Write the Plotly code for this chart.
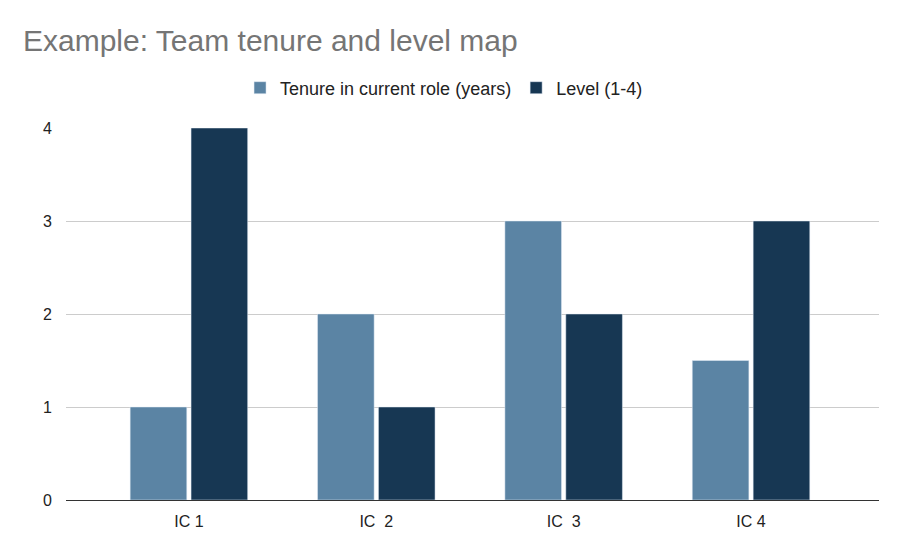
import plotly.graph_objects as go

# data
people = ['IC 1', 'IC  2', 'IC  3', 'IC 4']
tenure = [1, 2, 3, 1.5]
level = [4, 1, 2, 3]

fig = go.Figure()
fig.add_trace(go.Bar(
    x=people, y=tenure,
    name='Tenure in current role (years)',
    marker_color='#5b84a4'))
fig.add_trace(go.Bar(
    x=people, y=level,
    name='Level (1-4)',
    marker_color='#173753'))

fig.update_layout(
    width=902, height=550,
    margin=dict(l=58, r=31, t=120, b=58),
    paper_bgcolor='white', plot_bgcolor='white',
    font=dict(family='Liberation Sans, Arial, sans-serif', size=16, color='#222222'),
    title=dict(text='Example: Team tenure and level map',
               x=15 / 902, xanchor='left', xref='container',
               y=1 - 32 / 550, yanchor='middle', yref='container',
               font=dict(size=30, color='#757575')),
    barmode='group', bargap=0.35, bargroupgap=0.07,
    showlegend=True,
    legend=dict(orientation='h', x=0.465, xanchor='center',
                y=1 + 40 / 372, yanchor='middle',
                font=dict(size=18, color='#222222'),
                itemwidth=30),
)
fig.update_xaxes(range=[-0.656, 3.683], showgrid=False,
                 showline=True, linecolor='#333333', linewidth=1,
                 ticks='', ticklen=0, ticklabelstandoff=7)
fig.update_yaxes(range=[0, 4], dtick=1, showgrid=True, gridcolor='#cccccc',
                 zeroline=False, showline=False, ticks='', ticklabelstandoff=13)

fig.write_html("out.html")
